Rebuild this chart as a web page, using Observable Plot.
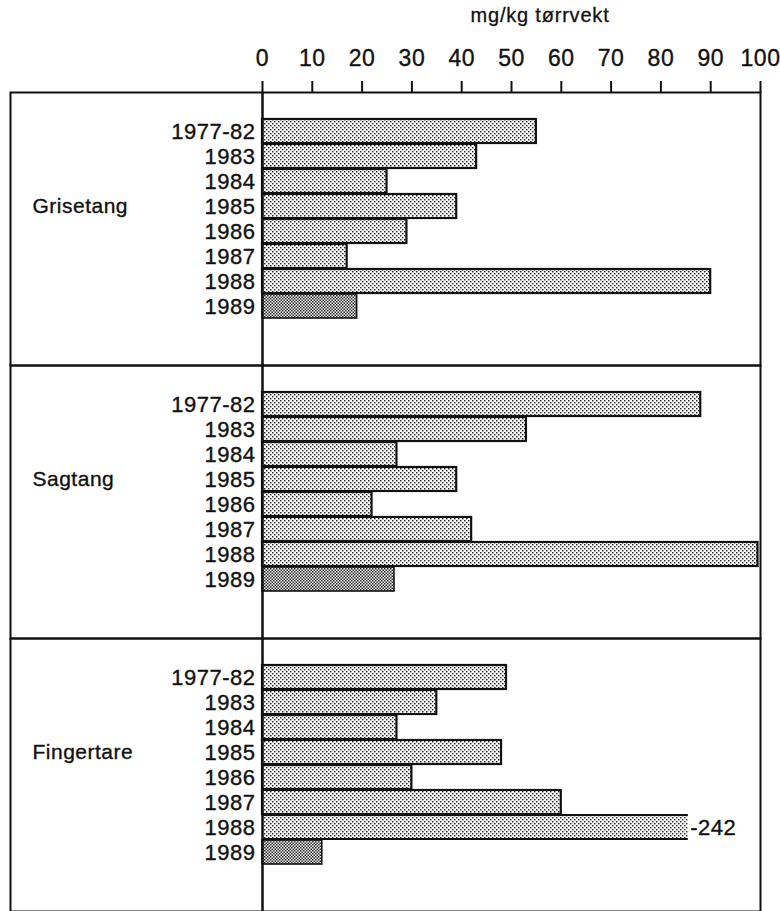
<!DOCTYPE html>
<html>
<head>
<meta charset="utf-8">
<script src="https://cdn.jsdelivr.net/npm/d3@7"></script>
<script src="https://cdn.jsdelivr.net/npm/@observablehq/plot@0.6"></script>
<style>
  html, body { margin: 0; padding: 0; background: #fff; }
  #wrap { width: 780px; position: relative; font-family: "Liberation Sans", Arial, sans-serif; color: #111; }
  #title { position: relative; height: 30px; }
  #title span { position: absolute; left: 540px; top: 4px; transform: translateX(-50%); font-size: 20px; letter-spacing: 0.8px; white-space: nowrap; -webkit-text-stroke: 0.3px #111; }
  svg { display: block; }
  svg text { letter-spacing: 0.5px; }
</style>
</head>
<body>
<div id="wrap">
  <div id="title"><span id="titleText"></span></div>
  <div id="chart"></div>
</div>
<script>
// ---- data ----
const axisTitle = "mg/kg tørrvekt";
const species = ["Grisetang", "Sagtang", "Fingertare"];
const years = ["1977-82", "1983", "1984", "1985", "1986", "1987", "1988", "1989"];
const grisetang = [55, 43, 25, 39, 29, 17, 90, 19];
const sagtang = [88, 53, 27, 39, 22, 42, 99.5, 26.5];
const fingertare = [49, 35, 27, 48, 30, 60, 242, 12];
const xTicks = [0, 10, 20, 30, 40, 50, 60, 70, 80, 90, 100];
const xMax = 100;      // axis maximum
const breakAt = 85.5;  // where off-scale bars are cut
const darkYear = "1989";

const seriesBySpecies = { "Grisetang": grisetang, "Sagtang": sagtang, "Fingertare": fingertare };
const rows = species.flatMap(s => years.map((y, i) => ({ species: s, year: y, value: seriesBySpecies[s][i] })));
const normal = rows.filter(d => d.value <= xMax && d.year !== darkYear);
const dark = rows.filter(d => d.value <= xMax && d.year === darkYear);
const broken = rows.filter(d => d.value > xMax);

document.getElementById("titleText").textContent = axisTitle;

const ink = "#111";
const font = "Liberation Sans, Arial, sans-serif";
const textStroke = { stroke: ink, strokeWidth: 0.35 };

const plot = Plot.plot({
  width: 780,
  height: 881,
  marginTop: 61,
  marginBottom: 0,
  marginLeft: 10,
  marginRight: 20,
  style: { fontFamily: font, color: ink, background: "#fff" },
  x: { domain: [0, xMax], range: [262, 760], axis: null },
  y: { domain: years, paddingInner: 0.03, paddingOuter: 0, insetTop: 26, insetBottom: 46, axis: null },
  fy: { domain: species, padding: 0, axis: null },
  marks: [
    Plot.barX(normal, { x1: 0, x2: "value", y: "year", fy: "species", fill: "url(#stippleLight)", stroke: ink, strokeWidth: 2.2 }),
    Plot.barX(dark, { x1: 0, x2: "value", y: "year", fy: "species", fill: "url(#stippleDark)", stroke: ink, strokeWidth: 1.6 }),
    Plot.barX(broken, { x1: 0, x2: () => breakAt, y: "year", fy: "species", fill: "url(#stippleBroken)" }),
    Plot.text(broken, { x: () => breakAt, y: "year", fy: "species", text: d => "-" + d.value, textAnchor: "start", dx: 2, fontSize: 22, fill: ink, ...textStroke }),
    Plot.text(rows, { x: 0, y: "year", fy: "species", text: "year", textAnchor: "end", dx: -7, fontSize: 22, fill: ink, ...textStroke }),
    Plot.text(species, { fy: d => d, y: () => years[3], text: d => d, frameAnchor: "left", textAnchor: "start", dx: 22, fontSize: 21, fill: ink, ...textStroke }),
    Plot.frame({ stroke: ink, strokeWidth: 2 }),
    Plot.ruleX([0], { stroke: ink, strokeWidth: 2.5 }),
    Plot.axisX({ anchor: "top", ticks: xTicks, tickFormat: d => String(d), tickSize: 12, tickPadding: 15, fontSize: 23, stroke: ink, strokeWidth: 2, fill: ink, label: null })
  ]
});

document.getElementById("chart").appendChild(plot);

// stipple patterns
const svg = d3.select(plot.tagName.toLowerCase() === "svg" ? plot : plot.querySelector("svg"));
const defs = svg.insert("defs", ":first-child");
function lightPattern(id) {
  const p = defs.append("pattern").attr("id", id).attr("patternUnits", "userSpaceOnUse").attr("width", 4).attr("height", 4);
  p.append("rect").attr("width", 4).attr("height", 4).attr("fill", "#fff");
  p.append("rect").attr("x", 0).attr("y", 0).attr("width", 1.45).attr("height", 1.45).attr("fill", "#222");
  p.append("rect").attr("x", 2).attr("y", 2).attr("width", 1.45).attr("height", 1.45).attr("fill", "#222");
}
lightPattern("stippleLight");
lightPattern("stippleBroken");
const darkP = defs.append("pattern").attr("id", "stippleDark").attr("patternUnits", "userSpaceOnUse").attr("width", 3).attr("height", 3);
darkP.append("rect").attr("width", 3).attr("height", 3).attr("fill", "#fff");
darkP.append("rect").attr("x", 0).attr("y", 0).attr("width", 1.5).attr("height", 1.5).attr("fill", "#222");
darkP.append("rect").attr("x", 1.5).attr("y", 1.5).attr("width", 1.5).attr("height", 1.5).attr("fill", "#222");

// tick labels a touch heavier, like the scanned original
svg.selectAll('g[aria-label="x-axis tick label"] text, g[aria-label="x-axis tick label"]').attr("stroke", ink).attr("stroke-width", 0.35);

// broken (off-scale) bar: only top and bottom edges, open right end
svg.selectAll("rect").filter(function () {
  const own = this.getAttribute("fill");
  const par = this.parentNode && this.parentNode.getAttribute && this.parentNode.getAttribute("fill");
  const gp = this.parentNode && this.parentNode.parentNode && this.parentNode.parentNode.getAttribute && this.parentNode.parentNode.getAttribute("fill");
  return [own, par, gp].some(f => f && f.indexOf("stippleBroken") >= 0);
}).each(function () {
  const r = d3.select(this);
  const x = +r.attr("x"), y = +r.attr("y"), w = +r.attr("width"), h = +r.attr("height");
  const g = d3.select(this.parentNode);
  for (const yy of [y, y + h]) {
    g.append("line").attr("x1", x).attr("x2", x + w).attr("y1", yy).attr("y2", yy)
      .attr("stroke", ink).attr("stroke-width", 2.2);
  }
});
</script>
</body>
</html>
